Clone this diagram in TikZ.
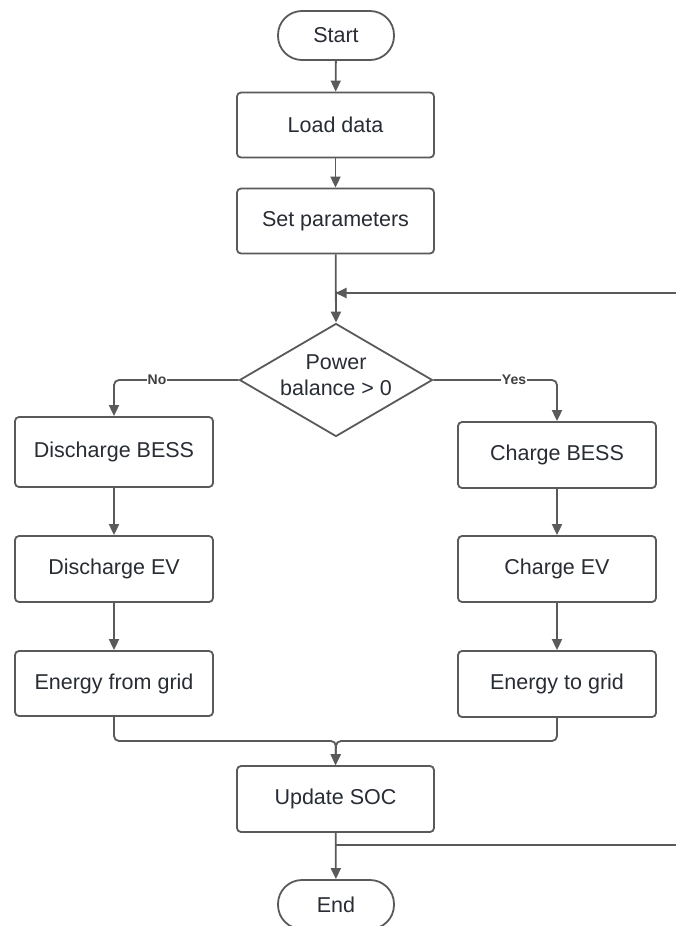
\documentclass[tikz,border=0pt]{standalone}
\usepackage{fontspec}
\setmainfont{Liberation Sans}
\usetikzlibrary{shapes.geometric,arrows.meta}
\definecolor{edgegray}{HTML}{5A5A5A}
\definecolor{inkgray}{HTML}{282C33}
\begin{document}
\begin{tikzpicture}[x=1pt,y=-1pt,
  every node/.style={text=inkgray,font=\fontsize{21.5}{26}\selectfont},
  procbox/.style={draw=edgegray,line width=1.8pt,rounded corners=4pt,fill=white,
    minimum width=197pt,minimum height=65pt,inner sep=0pt},
  termbox/.style={draw=edgegray,line width=1.8pt,rounded corners=24pt,fill=white,
    minimum width=116pt,minimum height=49pt,inner sep=0pt},
  decbox/.style={draw=edgegray,line width=1.8pt,diamond,aspect=1.708,
    minimum width=193pt,minimum height=113pt,inner sep=0pt},
  flow/.style={draw=edgegray,line width=1.8pt,rounded corners=5pt,
    -{Triangle[length=11pt,width=10pt]}},
  plainline/.style={draw=edgegray,line width=1.8pt,rounded corners=5pt},
  branchlbl/.style={fill=white,inner sep=1pt,font=\fontsize{14}{15}\selectfont\bfseries,text=edgegray!70!black}]
\useasboundingbox (0,0) rectangle (676,926);
\fill[white] (0,0) rectangle (676,926);

% main column
\node[termbox] (start) at (336,35.5) {Start};
\node[procbox] (load) at (335.5,125) {Load data};
\node[procbox] (setp) at (335.5,221) {Set parameters};
\node[decbox] (dec) at (336,380) {};
\node[align=center,inner sep=0pt] (dectext) at (336,375.5) {Power\\balance > 0};

% left branch
\node[procbox,minimum width=198pt,minimum height=70pt] (dbess) at (114,452) {Discharge BESS};
\node[procbox,minimum width=198pt,minimum height=66pt] (dev) at (114,569) {Discharge EV};
\node[procbox,minimum width=198pt,minimum height=65pt] (efg) at (114,683.5) {Energy from grid};

% right branch
\node[procbox,minimum width=198pt,minimum height=66pt] (cbess) at (557,455) {Charge BESS};
\node[procbox,minimum width=198pt,minimum height=66pt] (cev) at (557,569) {Charge EV};
\node[procbox,minimum width=198pt,minimum height=66pt] (etg) at (557,684) {Energy to grid};

% tail
\node[procbox,minimum height=66pt] (usoc) at (335.5,799) {Update SOC};
\node[termbox] (finish) at (336,904.5) {End};

% loop end points at the right margin
\coordinate (loopin) at (676,293);
\coordinate (loopout) at (676,845);
\coordinate (merge) at (336,741);

% connectors
\draw[flow] (start) -- (load);
\draw[flow] (load) -- (setp);
\draw[flow] (setp) -- (dec.north);
\draw[flow] (loopin) -- (loopin -| setp.south);

\draw[flow] (dec.west) -- (dec.west -| dbess.north) -- (dbess.north);
\node[branchlbl] (nolbl) at (157,380) {No};
\draw[flow] (dec.east) -- (dec.east -| cbess.north) -- (cbess.north);
\node[branchlbl] (yeslbl) at (514,380) {Yes};

\draw[flow] (dbess) -- (dev);
\draw[flow] (dev) -- (efg);
\draw[flow] (cbess) -- (cev);
\draw[flow] (cev) -- (etg);

\draw[flow] (efg.south) -- (efg.south |- merge) -- (merge) -- (usoc.north);
\draw[flow] (etg.south) -- (etg.south |- merge) -- (merge) -- (usoc.north);

\draw[flow] (usoc) -- (finish);
\draw[plainline] (usoc.south |- loopout) -- (loopout);
\end{tikzpicture}
\end{document}
